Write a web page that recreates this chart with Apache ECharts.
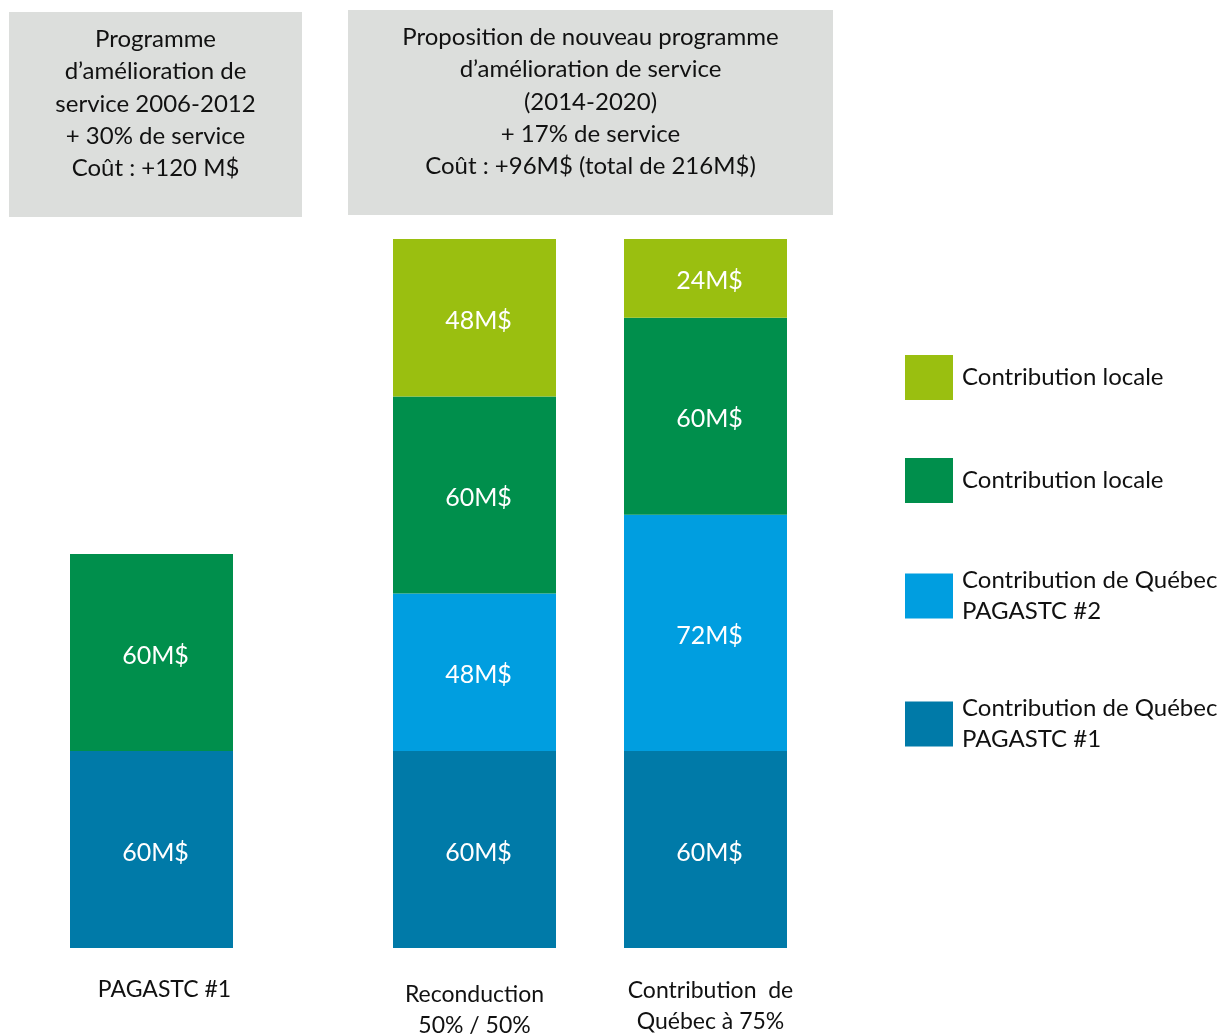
<!DOCTYPE html>
<html>
<head>
<meta charset="utf-8">
<script src="https://cdn.jsdelivr.net/npm/echarts@6/dist/echarts.min.js"></script>
<style>
  html, body { margin: 0; padding: 0; background: #fff; }
  #chart { width: 1225px; height: 1036px; }
</style>
</head>
<body>
<div id="chart"></div>
<script>
// données
var categoriesAvant = ['PAGASTC #1'];
var categoriesApres = ['Reconduction\n50% / 50%', 'Contribution  de\nQuébec à 75%'];

var quebec1Avant = [60];
var localeAvant = [60];

var quebec1 = [60, 60];
var quebec2 = [48, 72];
var locale = [60, 60];
var locale2 = [48, 24];

var nomQuebec1 = 'Contribution de Québec\nPAGASTC #1';
var nomQuebec2 = 'Contribution de Québec\nPAGASTC #2';
var nomLocale = 'Contribution locale';
var nomLocale2 = 'Contribution locale ';

var couleurs = {};
couleurs[nomQuebec1] = '#007aa8';
couleurs[nomQuebec2] = '#009ee0';
couleurs[nomLocale] = '#008f4c';
couleurs[nomLocale2] = '#9abf10';

var police = 'Lato, "Open Sans", sans-serif';

var myChart = echarts.init(document.getElementById('chart'));

function serie(nom, data, idx) {
    return {
        name: nom,
        type: 'bar',
        stack: 'total' + idx,
        xAxisIndex: idx,
        yAxisIndex: idx,
        barWidth: 163,
        data: data,
        itemStyle: { color: couleurs[nom] },
        label: {
            show: true,
            position: 'inside',
            offset: [4, 3],
            formatter: '{c}M$',
            color: '#fff',
            fontFamily: police,
            fontSize: 25
        }
    };
}

function legende(nom, top) {
    return {
        data: [nom],
        left: 905,
        top: top,
        orient: 'vertical',
        padding: 0,
        icon: 'rect',
        itemWidth: 48,
        itemHeight: 45,
        formatter: function (n) { return n.trim(); },
        textStyle: {
            fontFamily: police,
            fontSize: 24,
            lineHeight: 31,
            color: '#111',
            padding: [0, 0, 0, 4]
        }
    };
}

var axeX = {
    type: 'category',
    axisLine: { show: false },
    axisTick: { show: false },
    axisLabel: {
        fontFamily: police,
        fontSize: 23,
        lineHeight: 31,
        color: '#111',
        margin: 26
    }
};

var option = {
    animation: false,
    grid: [
        { left: 70, width: 163, top: 239, bottom: 88, outerBoundsMode: 'none' },
        { left: 359, width: 462, top: 239, bottom: 88, outerBoundsMode: 'none' }
    ],
    xAxis: [
        Object.assign({}, axeX, {
            gridIndex: 0,
            data: categoriesAvant.map(function (c) {
                return { value: c, textStyle: { padding: [0, 0, 0, 26] } };
            })
        }),
        Object.assign({}, axeX, {
            gridIndex: 1,
            data: categoriesApres.map(function (c, i) {
                return { value: c, textStyle: { padding: [i === 0 ? 5 : 1, 0, 0, i === 0 ? 0 : 10] } };
            })
        })
    ],
    yAxis: [
        { type: 'value', gridIndex: 0, min: 0, max: 216, show: false },
        { type: 'value', gridIndex: 1, min: 0, max: 216, show: false }
    ],
    legend: [
        legende(nomLocale2, 355),
        legende(nomLocale, 458),
        legende(nomQuebec2, 565),
        legende(nomQuebec1, 693)
    ],
    graphic: [
        {
            type: 'rect',
            shape: { x: 9, y: 12, width: 293, height: 205 },
            style: { fill: '#dcdedc' }
        },
        {
            type: 'text',
            x: 155.5,
            y: 104,
            style: {
                text: 'Programme\nd\u2019amélioration de\nservice 2006-2012\n+ 30% de service\nCoût : +120 M$',
                fontFamily: police,
                fontSize: 24,
                lineHeight: 32.3,
                fill: '#111',
                align: 'center',
                verticalAlign: 'middle'
            }
        },
        {
            type: 'rect',
            shape: { x: 348, y: 10, width: 485, height: 205 },
            style: { fill: '#dcdedc' }
        },
        {
            type: 'text',
            x: 590.5,
            y: 102,
            style: {
                text: 'Proposition de nouveau programme\nd\u2019amélioration de service\n(2014-2020)\n+ 17% de service\nCoût : +96M$ (total de 216M$)',
                fontFamily: police,
                fontSize: 24,
                lineHeight: 32.3,
                fill: '#111',
                align: 'center',
                verticalAlign: 'middle'
            }
        }
    ],
    series: [
        serie(nomQuebec1, quebec1Avant, 0),
        serie(nomLocale, localeAvant, 0),
        serie(nomQuebec1, quebec1, 1),
        serie(nomQuebec2, quebec2, 1),
        serie(nomLocale, locale, 1),
        serie(nomLocale2, locale2, 1)
    ]
};

myChart.setOption(option);
</script>
</body>
</html>
